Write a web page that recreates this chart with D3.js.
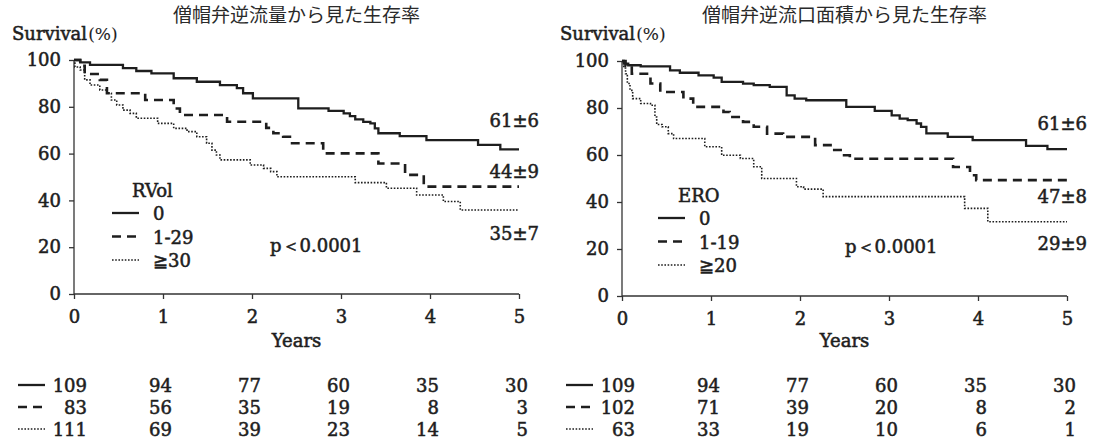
<!DOCTYPE html>
<html>
<head>
<meta charset="utf-8">
<script src="https://cdn.jsdelivr.net/npm/d3@7"></script>
<style>
  body { margin: 0; background: #fff; }
  svg { display: block; }
  .axis path, .axis line { stroke: #333; stroke-width: 1.3px; }
</style>
</head>
<body>
<svg width="1096" height="448"></svg>
<script>
// x axis ticks (years) and y ticks (%)
var yearTicks = [0, 1, 2, 3, 4, 5];
var survTicks = [0, 20, 40, 60, 80, 100];

// RVol curves, [year, survival %]
var rvol0 = [[0,100],[0.07,99],[0.18,97.9],[0.55,96.5],[0.70,95.3],[0.87,94.3],[1.12,92.2],[1.38,90.7],[1.64,89.3],[1.83,88],[1.90,85.8],[2.01,83.6],[2.52,79.3],[2.86,78.3],[3.03,77.2],[3.10,76],[3.16,74.6],[3.25,73.6],[3.33,72.9],[3.38,70.8],[3.42,68.7],[3.66,67.5],[3.96,65.8],[4.54,63.7],[4.79,61.8],[5,61.8]];
var rvol1 = [[0,100],[0.07,97.5],[0.12,94],[0.29,91.5],[0.37,85.8],[0.80,82.9],[1.12,79.3],[1.19,76.5],[1.72,73.6],[2.16,71],[2.24,68.7],[2.35,67.2],[2.45,64.4],[2.80,60.1],[3.42,55.8],[3.72,50.9],[3.93,45.9],[5,45.9]];
var rvol2 = [[0,100],[0.01,97],[0.07,95.7],[0.12,91.5],[0.18,89.3],[0.29,87.2],[0.37,85.8],[0.42,82.9],[0.48,80.8],[0.55,78.6],[0.63,77.2],[0.70,75.1],[0.94,72.9],[1.12,70.8],[1.27,69.4],[1.38,67.2],[1.49,64.4],[1.55,61.5],[1.60,59.4],[1.64,57.3],[1.98,55.1],[2.13,53.7],[2.21,52.3],[2.28,50.1],[3.16,47.6],[3.51,45.2],[3.85,42.3],[4.15,39.5],[4.34,35.9],[5,35.9]];

// ERO curves
var ero0 = [[0,100],[0.02,98.9],[0.07,98.2],[0.21,97.7],[0.54,96],[0.65,95],[0.86,93.9],[1.03,92.9],[1.12,91.1],[1.36,90.4],[1.48,89.7],[1.66,89],[1.85,85.4],[1.94,84],[2.07,83.3],[2.52,80.5],[2.84,78.8],[3.03,76.9],[3.12,75.5],[3.21,74.8],[3.31,73.4],[3.36,72],[3.42,69.2],[3.66,67.7],[3.94,66.3],[4.54,63.9],[4.78,62.5],[5,62.5]];
var ero1 = [[0,100],[0.04,98],[0.11,94.6],[0.32,90.4],[0.43,86.8],[0.69,84],[0.80,80.5],[1.14,78.3],[1.21,76.2],[1.36,74.1],[1.48,72],[1.63,69.1],[1.81,67.7],[2.17,64.2],[2.37,62.1],[2.48,59.9],[2.56,58.4],[3.72,54.9],[3.91,51.4],[3.98,49.3],[5,49.3]];
var ero2 = [[0,100],[0.02,97],[0.04,94.6],[0.06,90.4],[0.09,87.5],[0.12,84],[0.21,81.9],[0.32,81.2],[0.37,76.2],[0.39,73],[0.45,72],[0.52,69.1],[0.58,67],[0.93,63.5],[1.12,59.9],[1.33,58.5],[1.48,55],[1.57,50],[1.96,46.5],[2.04,45.5],[2.26,42.3],[3.85,37.3],[4.11,31.6],[5,31.6]];

// numbers at risk
var rvolRisk0 = [109, 94, 77, 60, 35, 30];
var rvolRisk1 = [83, 56, 35, 19, 8, 3];
var rvolRisk2 = [111, 69, 39, 23, 14, 5];
var eroRisk0 = [109, 94, 77, 60, 35, 30];
var eroRisk1 = [102, 71, 39, 20, 8, 2];
var eroRisk2 = [63, 33, 19, 10, 6, 1];

var rvolLegend = ["0", "1-29", "\u226730"];
var eroLegend = ["0", "1-19", "\u226720"];
var rvolEnd = ["61\u00b16", "44\u00b19", "35\u00b17"];
var eroEnd = ["61\u00b16", "47\u00b18", "29\u00b19"];

var lineStyles = [
    {w: 2.3, dash: null},
    {w: 2.6, dash: "9,6"},
    {w: 1.6, dash: "1.6,1.6"}
];

var SERIF = "'DejaVu Serif', 'Liberation Serif', serif";
var INK = "#1e1e1e";

var svg = d3.select("svg");

// every latin label goes through here so font is set on the element itself
function serif(sel, size) {
    return sel.style("font-family", SERIF)
        .style("font-size", (size || 18) + "px")
        .style("fill", INK)
        .style("stroke", INK)
        .style("stroke-width", "0.55px");
}

function drawPanel(p) {
    var x = d3.scaleLinear().domain([0, 5]).range([p.left, p.right]);
    var y = d3.scaleLinear().domain([0, 100]).range([p.bottom, p.top]);
    var g = svg.append("g");

    g.append("text")
        .attr("x", (p.left + p.right) / 2).attr("y", 22)
        .attr("text-anchor", "middle")
        .style("font-family", "'Noto Sans CJK JP', sans-serif")
        .style("font-size", "19px")
        .style("fill", "#2a2a2a")
        .text(p.title);

    var st = serif(g.append("text").attr("x", p.left - 62).attr("y", 40));
    st.append("tspan").text("Survival");
    st.append("tspan").style("font-size", "17px").style("stroke-width", "0.1px").attr("dx", 1).text("(%)");

    g.append("g").attr("class", "axis")
        .attr("transform", "translate(0," + p.bottom + ")")
        .call(d3.axisBottom(x).tickValues(yearTicks).tickSize(5).tickPadding(11).tickFormat(d3.format("d")))
        .call(a => serif(a.selectAll("text")))
        .call(a => a.select(".domain").attr("d", "M" + p.left + ",0H" + p.right));

    g.append("g").attr("class", "axis")
        .attr("transform", "translate(" + p.left + ",0)")
        .call(d3.axisLeft(y).tickValues(survTicks).tickSize(5).tickPadding(8))
        .call(a => serif(a.selectAll("text")))
        .call(a => a.select(".domain").attr("d", "M0," + p.top + "V" + p.bottom));

    serif(g.append("text").attr("x", (p.left + p.right) / 2).attr("y", 347)
        .attr("text-anchor", "middle")).text("Years");

    var line = d3.line()
        .x(d => x(d[0]))
        .y(d => y(d[1]))
        .curve(d3.curveStepAfter);

    p.curves.forEach(function(c, i) {
        g.append("path").datum(c)
            .attr("d", line)
            .attr("fill", "none")
            .attr("stroke", INK)
            .attr("stroke-width", lineStyles[i].w)
            .attr("stroke-dasharray", lineStyles[i].dash);
    });

    // end labels
    p.endLabels.forEach(function(t, i) {
        serif(g.append("text").attr("x", p.right + 20).attr("y", p.endY[i])
            .attr("text-anchor", "end")).text(t);
    });

    serif(g.append("text").attr("x", p.left + p.pX).attr("y", p.pY)).text("p\uff1c0.0001");

    // legend
    serif(g.append("text").attr("x", p.left + p.legX + 20).attr("y", p.legY)).text(p.legTitle);
    p.legLabels.forEach(function(t, i) {
        var ly = p.legY + 23 + i * 23.5;
        g.append("line")
            .attr("x1", p.left + p.legX).attr("x2", p.left + p.legX + 27)
            .attr("y1", ly - 7).attr("y2", ly - 7)
            .attr("stroke", INK)
            .attr("stroke-width", lineStyles[i].w)
            .attr("stroke-dasharray", lineStyles[i].dash);
        serif(g.append("text").attr("x", p.left + p.legX + 41).attr("y", ly)).text(t);
    });

    // numbers at risk
    p.risk.forEach(function(row, i) {
        var ry = 392 + i * 22;
        g.append("line")
            .attr("x1", p.left - 56).attr("x2", p.left - 29)
            .attr("y1", ry - 7).attr("y2", ry - 7)
            .attr("stroke", INK)
            .attr("stroke-width", lineStyles[i].w)
            .attr("stroke-dasharray", lineStyles[i].dash);
        serif(g.selectAll(null).data(row).enter().append("text")
            .attr("x", (d, j) => x(yearTicks[j]) + (j == 0 ? 13 : 9))
            .attr("y", ry)
            .attr("text-anchor", "end"))
            .text(d => d);
    });
}

drawPanel({
    left: 74, right: 519, top: 60, bottom: 294,
    title: "僧帽弁逆流量から見た生存率",
    curves: [rvol0, rvol1, rvol2],
    endLabels: rvolEnd, endY: [127, 178, 240],
    pX: 196, pY: 252,
    legX: 38, legY: 197, legTitle: "RVol", legLabels: rvolLegend,
    risk: [rvolRisk0, rvolRisk1, rvolRisk2]
});

drawPanel({
    left: 622, right: 1067, top: 61, bottom: 296,
    title: "僧帽弁逆流口面積から見た生存率",
    curves: [ero0, ero1, ero2],
    endLabels: eroEnd, endY: [130, 203, 250],
    pX: 223, pY: 253,
    legX: 36, legY: 202, legTitle: "ERO", legLabels: eroLegend,
    risk: [eroRisk0, eroRisk1, eroRisk2]
});
</script>
</body>
</html>
